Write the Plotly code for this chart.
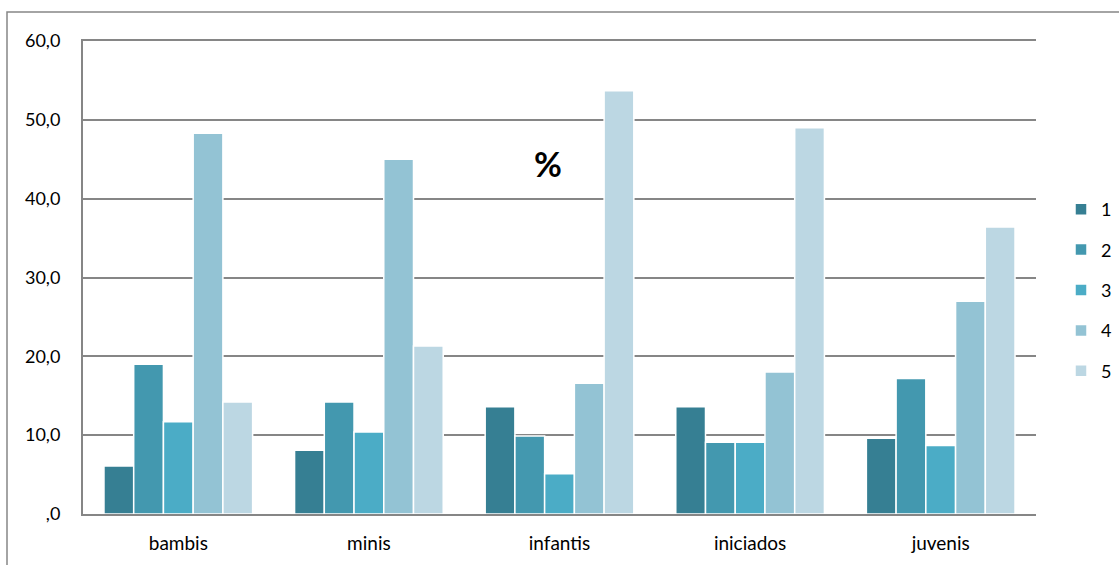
import plotly.graph_objects as go

categories = ["bambis", "minis", "infantis", "iniciados", "juvenis"]
series_names = ["1", "2", "3", "4", "5"]
s1 = [6.1, 8.1, 13.6, 13.6, 9.6]
s2 = [19.0, 14.2, 9.9, 9.1, 17.2]
s3 = [11.7, 10.4, 5.1, 9.1, 8.7]
s4 = [48.3, 45.0, 16.6, 18.0, 27.0]
s5 = [14.2, 21.3, 53.7, 49.0, 36.4]
series_values = [s1, s2, s3, s4, s5]
tick_vals = [0, 10, 20, 30, 40, 50, 60]
tick_text = [",0", "10,0", "20,0", "30,0", "40,0", "50,0", "60,0"]
colors = ["#367F93", "#4398AF", "#4BACC6", "#93C3D4", "#BCD7E3"]

FONT = "Lato"
fig = go.Figure()
for i, (name, vals) in enumerate(zip(series_names, series_values)):
    fig.add_trace(go.Bar(
        x=categories, y=vals, name=name, legendgroup=name,
        marker=dict(color=colors[i], line=dict(color="white", width=1.5)),
    ))

W, H = 1119, 565
L, R, T, B = 83, 1036, 41, 514
pw, ph = R - L, B - T

def px_x(x):
    return (x - L) / pw

def px_y(y):
    return (B - y) / ph

fig.update_layout(
    width=W, height=H,
    margin=dict(l=L, r=W - R, t=T, b=H - B, autoexpand=False),
    paper_bgcolor="white", plot_bgcolor="white",
    barmode="group", bargap=0.22, bargroupgap=0,
    font=dict(family=FONT, size=18, color="#000000"),
    showlegend=True,
    legend=dict(x=px_x(1061), y=px_y(191), xanchor="left", yanchor="top",
                font=dict(family=FONT, size=18), tracegroupgap=14,
                bgcolor="rgba(0,0,0,0)"),
    xaxis=dict(showgrid=False, showline=True, linecolor="#868686", linewidth=2,
               mirror=True, ticks="", ticklabelstandoff=11, tickfont=dict(size=19)),
    yaxis=dict(range=[0, 60], tickvals=tick_vals, ticktext=tick_text,
               showgrid=True, gridcolor="#868686", gridwidth=1.5,
               showline=True, linecolor="#868686", linewidth=2,
               ticks="outside", ticklen=0, ticklabelstandoff=17,
               tickfont=dict(size=18), zeroline=False),
    shapes=[dict(type="rect", xref="paper", yref="paper",
                 x0=px_x(7), x1=px_x(1130), y0=px_y(580), y1=px_y(12),
                 line=dict(color="#868686", width=1.5), layer="below")],
    annotations=[dict(text="<b>%</b>", xref="paper", yref="paper",
                      x=px_x(548), y=px_y(164), xanchor="center", yanchor="middle",
                      showarrow=False,
                      font=dict(family=FONT, size=34, color="#000000"))],
)

fig.write_html("out.html", config={"displayModeBar": False},
               post_script="document.body.style.margin='0';document.body.style.overflow='hidden';")
